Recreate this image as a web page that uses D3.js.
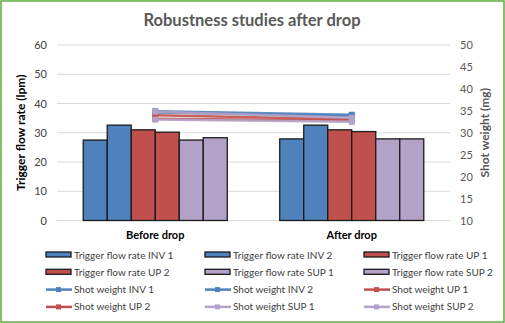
<!DOCTYPE html>
<html>
<head>
<meta charset="utf-8">
<script src="https://cdn.jsdelivr.net/npm/d3@7"></script>
<style>
  body { margin: 0; background: #fff; }
  svg { display: block; font-family: Lato, "Open Sans", sans-serif; }
</style>
</head>
<body>
<svg id="chart" width="505" height="323"></svg>
<script>
// chart data
const categories = ["Before drop", "After drop"];
const barSeries = ["Trigger flow rate INV 1", "Trigger flow rate INV 2", "Trigger flow rate UP 1",
  "Trigger flow rate UP 2", "Trigger flow rate SUP 1", "Trigger flow rate SUP 2"];
const flowBefore = [27.5, 32.6, 31.0, 30.2, 27.5, 28.3];
const flowAfter = [27.9, 32.6, 31.0, 30.4, 27.9, 27.9];
const lineSeries = ["Shot weight INV 1", "Shot weight INV 2", "Shot weight UP 1",
  "Shot weight UP 2", "Shot weight SUP 1", "Shot weight SUP 2"];
const weightBefore = [34.6, 34.9, 34.0, 33.2, 34.8, 33.0];
const weightAfter = [33.8, 34.1, 33.1, 32.8, 33.4, 32.5];
const leftTicks = [0, 10, 20, 30, 40, 50, 60];
const rightTicks = [10, 15, 20, 25, 30, 35, 40, 45, 50];

const colors = ["#4F81BD", "#4F81BD", "#C0504D", "#C0504D", "#B3A2C7", "#B3A2C7"];

const svg = d3.select("#chart");
const mLeft = 57, mRight = 450, mTop = 45, mBottom = 220.5;

// chart frame
svg.append("rect")
  .attr("x", 1).attr("y", 1).attr("width", 503).attr("height", 321)
  .attr("fill", "#fff").attr("stroke", "#5EAA3C").attr("stroke-width", 1.5);

svg.append("text")
  .attr("x", 252).attr("y", 26)
  .attr("text-anchor", "middle")
  .attr("font-size", 16.5).attr("font-weight", "bold").attr("fill", "#595959")
  .text("Robustness studies after drop");

const x = d3.scaleBand().domain(categories).range([mLeft, mRight]);
const xs = d3.scaleBand().domain(d3.range(6)).range([0, x.bandwidth() * 0.733]);
const y = d3.scaleLinear().domain([0, 60]).range([mBottom, mTop]);
const y2 = d3.scaleLinear().domain([10, 50]).range([mBottom, mTop]);

// gridlines
svg.append("g").selectAll("line").data(leftTicks).enter().append("line")
  .attr("x1", mLeft).attr("x2", mRight)
  .attr("y1", d => y(d)).attr("y2", d => y(d))
  .attr("stroke", "#D9D9D9").attr("stroke-width", 1);

// left axis
const ga = svg.append("g").attr("transform", `translate(${mLeft},0)`)
  .call(d3.axisLeft(y).tickValues(leftTicks).tickSize(0).tickPadding(10));
ga.select(".domain").remove();
ga.selectAll("text").attr("font-size", 11).attr("fill", "#404040").attr("font-family", "Lato, sans-serif");

// right axis
const gb = svg.append("g").attr("transform", `translate(${mRight},0)`)
  .call(d3.axisRight(y2).tickValues(rightTicks).tickSize(0).tickPadding(10));
gb.select(".domain").remove();
gb.selectAll("text").attr("font-size", 11).attr("fill", "#595959").attr("font-family", "Lato, sans-serif");

// category labels
const gx = svg.append("g").attr("transform", `translate(0,${mBottom})`)
  .call(d3.axisBottom(x).tickSize(0).tickPadding(11));
gx.select(".domain").remove();
gx.selectAll("text").attr("font-size", 11).attr("font-weight", "bold").attr("fill", "#000")
  .attr("font-family", "Lato, sans-serif");

// axis titles
svg.append("text")
  .attr("transform", `translate(25,${(mTop + mBottom) / 2}) rotate(-90)`)
  .attr("text-anchor", "middle").attr("font-size", 12).attr("font-weight", "bold").attr("fill", "#000")
  .text("Trigger flow rate (lpm)");
svg.append("text")
  .attr("transform", `translate(489,${(mTop + mBottom) / 2}) rotate(-90)`)
  .attr("text-anchor", "middle").attr("font-size", 12).attr("font-weight", "bold").attr("fill", "#595959")
  .text("Shot weight (mg)");

// bars
const flows = [flowBefore, flowAfter];
categories.forEach((c, ci) => {
  const x0 = x(c) + (x.bandwidth() - xs.range()[1]) / 2;
  svg.append("g").selectAll("rect").data(flows[ci]).enter().append("rect")
    .attr("x", (d, i) => x0 + xs(i))
    .attr("y", d => y(d))
    .attr("width", xs.bandwidth())
    .attr("height", d => mBottom - y(d))
    .attr("fill", (d, i) => colors[i])
    .attr("stroke", "#1a1a1a").attr("stroke-width", 1.3);
});

// lines
const cx = c => x(c) + x.bandwidth() / 2;
lineSeries.forEach((s, i) => {
  const pts = [[cx(categories[0]), y2(weightBefore[i])], [cx(categories[1]), y2(weightAfter[i])]];
  svg.append("path")
    .attr("d", d3.line()(pts))
    .attr("fill", "none").attr("stroke", colors[i]).attr("stroke-width", 2.5).attr("opacity", 0.9);
  svg.append("g").selectAll("rect").data(pts).enter().append("rect")
    .attr("x", d => d[0] - 3).attr("y", d => d[1] - 3)
    .attr("width", 6).attr("height", 6)
    .attr("fill", colors[i]);
});

// legend
const legendItems = barSeries.map((s, i) => ({ name: s, type: "bar", color: colors[i] }))
  .concat(lineSeries.map((s, i) => ({ name: s, type: "line", color: colors[i] })));
const colX = [46, 205, 364];
const lg = svg.append("g");
legendItems.forEach((d, i) => {
  const lx = colX[i % 3], ly = 255 + Math.floor(i / 3) * 17.3;
  if (d.type === "bar") {
    lg.append("rect").attr("x", lx).attr("y", ly - 3).attr("width", 25).attr("height", 5)
      .attr("fill", d.color).attr("stroke", "#1a1a1a").attr("stroke-width", 1.3);
  } else {
    lg.append("line").attr("x1", lx).attr("x2", lx + 26).attr("y1", ly).attr("y2", ly)
      .attr("stroke", d.color).attr("stroke-width", 2.5);
    lg.append("rect").attr("x", lx + 10).attr("y", ly - 2.5).attr("width", 5).attr("height", 5)
      .attr("fill", d.color);
  }
  lg.append("text").attr("x", lx + 28).attr("y", ly + 3.5)
    .attr("font-size", 10).attr("fill", "#404040")
    .text(d.name);
});
</script>
</body>
</html>
